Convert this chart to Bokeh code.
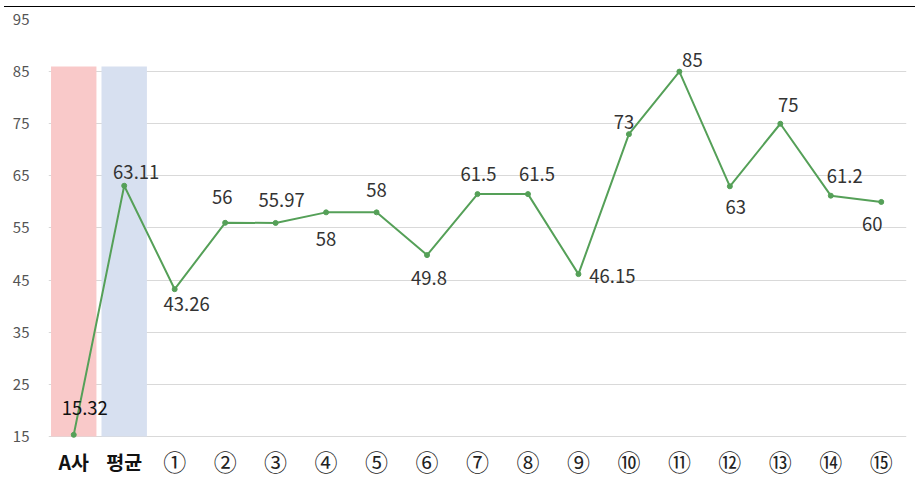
from bokeh.plotting import figure
from bokeh.models import ColumnDataSource, FactorRange, Range1d, FixedTicker
from bokeh.core.properties import value
from bokeh.embed import file_html
from bokeh.resources import INLINE

# ---- data ----
categories = ["A사", "평균", "①", "②", "③", "④", "⑤", "⑥", "⑦", "⑧",
              "⑨", "⑩", "⑪", "⑫", "⑬", "⑭", "⑮"]
values = [15.32, 63.11, 43.26, 56, 55.97, 58, 58, 49.8, 61.5, 61.5,
          46.15, 73, 85, 63, 75, 61.2, 60]
value_labels = ["15.32", "63.11", "43.26", "56", "55.97", "58", "58", "49.8", "61.5", "61.5",
                "46.15", "73", "85", "63", "75", "61.2", "60"]
band_categories = ["A사", "평균"]
band_tops = [86, 86]
y_ticks = [15, 25, 35, 45, 55, 65, 75, 85, 95]
axis_floor = 15

# ---- styles (label offsets in pixels, positive dy = down) ----
label_dx = [11, 12, 12, -3, 6, 0, 0, 2, 1, 9, 34, -5, 13, 6, 8, 14, -9]
label_dy = [-27, -14, 15, -26, -23, 27, -22, 23, -20, -20, 2, -12, -12, 21, -19, -20, 22]
label_colors = ["#111111", "#333333"] + ["#333333"] * 15
band_colors = ["#F9C9C9", "#D7E0F0"]

FONT = "Noto Sans CJK KR"

p = figure(
    x_range=FactorRange(*categories),
    y_range=Range1d(6.94, 95),
    width=911, height=471,
    output_backend="svg", toolbar_location=None,
    min_border_left=44, min_border_right=9, min_border_top=12, min_border_bottom=0,
)
p.styles = {"margin-top": "6px", "margin-left": "4px", "border-top": "1.5px solid #000000"}
p.outline_line_color = None
p.background_fill_color = "white"

band_src = ColumnDataSource(dict(x=band_categories, top=band_tops, color=band_colors))
p.vbar(x="x", top="top", bottom=axis_floor, width=0.9, fill_color="color", line_color=None,
       source=band_src)

src = ColumnDataSource(dict(x=categories, y=values, label=value_labels,
                            dx=label_dx, dy=label_dy, tc=label_colors))
p.line(x="x", y="y", source=src, line_color="#55A058", line_width=2)
p.scatter(x="x", y="y", source=src, size=5, fill_color="#55A058", line_color="#55A058")
p.text(x="x", y="y", text="label", x_offset="dx", y_offset="dy", source=src,
       text_align="center", text_baseline="middle", text_font=value(FONT),
       text_font_size="18.5px", text_color="tc")

# category labels drawn under the 15 baseline
bold_cats = categories[:2]
norm_cats = categories[2:]
p.text(x=bold_cats, y=[axis_floor] * len(bold_cats), text=bold_cats, y_offset=25,
       text_align="center", text_baseline="middle", text_font=value(FONT),
       text_font_size="19.5px", text_font_style="bold", text_color="#111111")
p.text(x=norm_cats, y=[axis_floor] * len(norm_cats), text=norm_cats, y_offset=25,
       text_align="center", text_baseline="middle", text_font=value(FONT),
       text_font_size="23px", text_color="#222222")

p.xaxis.visible = False
p.xgrid.grid_line_color = None
p.ygrid.grid_line_color = "#D9D9D9"
p.ygrid.ticker = FixedTicker(ticks=y_ticks)
p.yaxis.ticker = FixedTicker(ticks=y_ticks)
p.yaxis.axis_line_color = None
p.yaxis.major_tick_line_color = None
p.yaxis.minor_tick_line_color = None
p.yaxis.major_label_text_color = "#555555"
p.yaxis.major_label_text_font = FONT
p.yaxis.major_label_text_font_size = "15px"
p.yaxis.major_label_standoff = 13

open("out.html", "w").write(file_html(p, INLINE))
